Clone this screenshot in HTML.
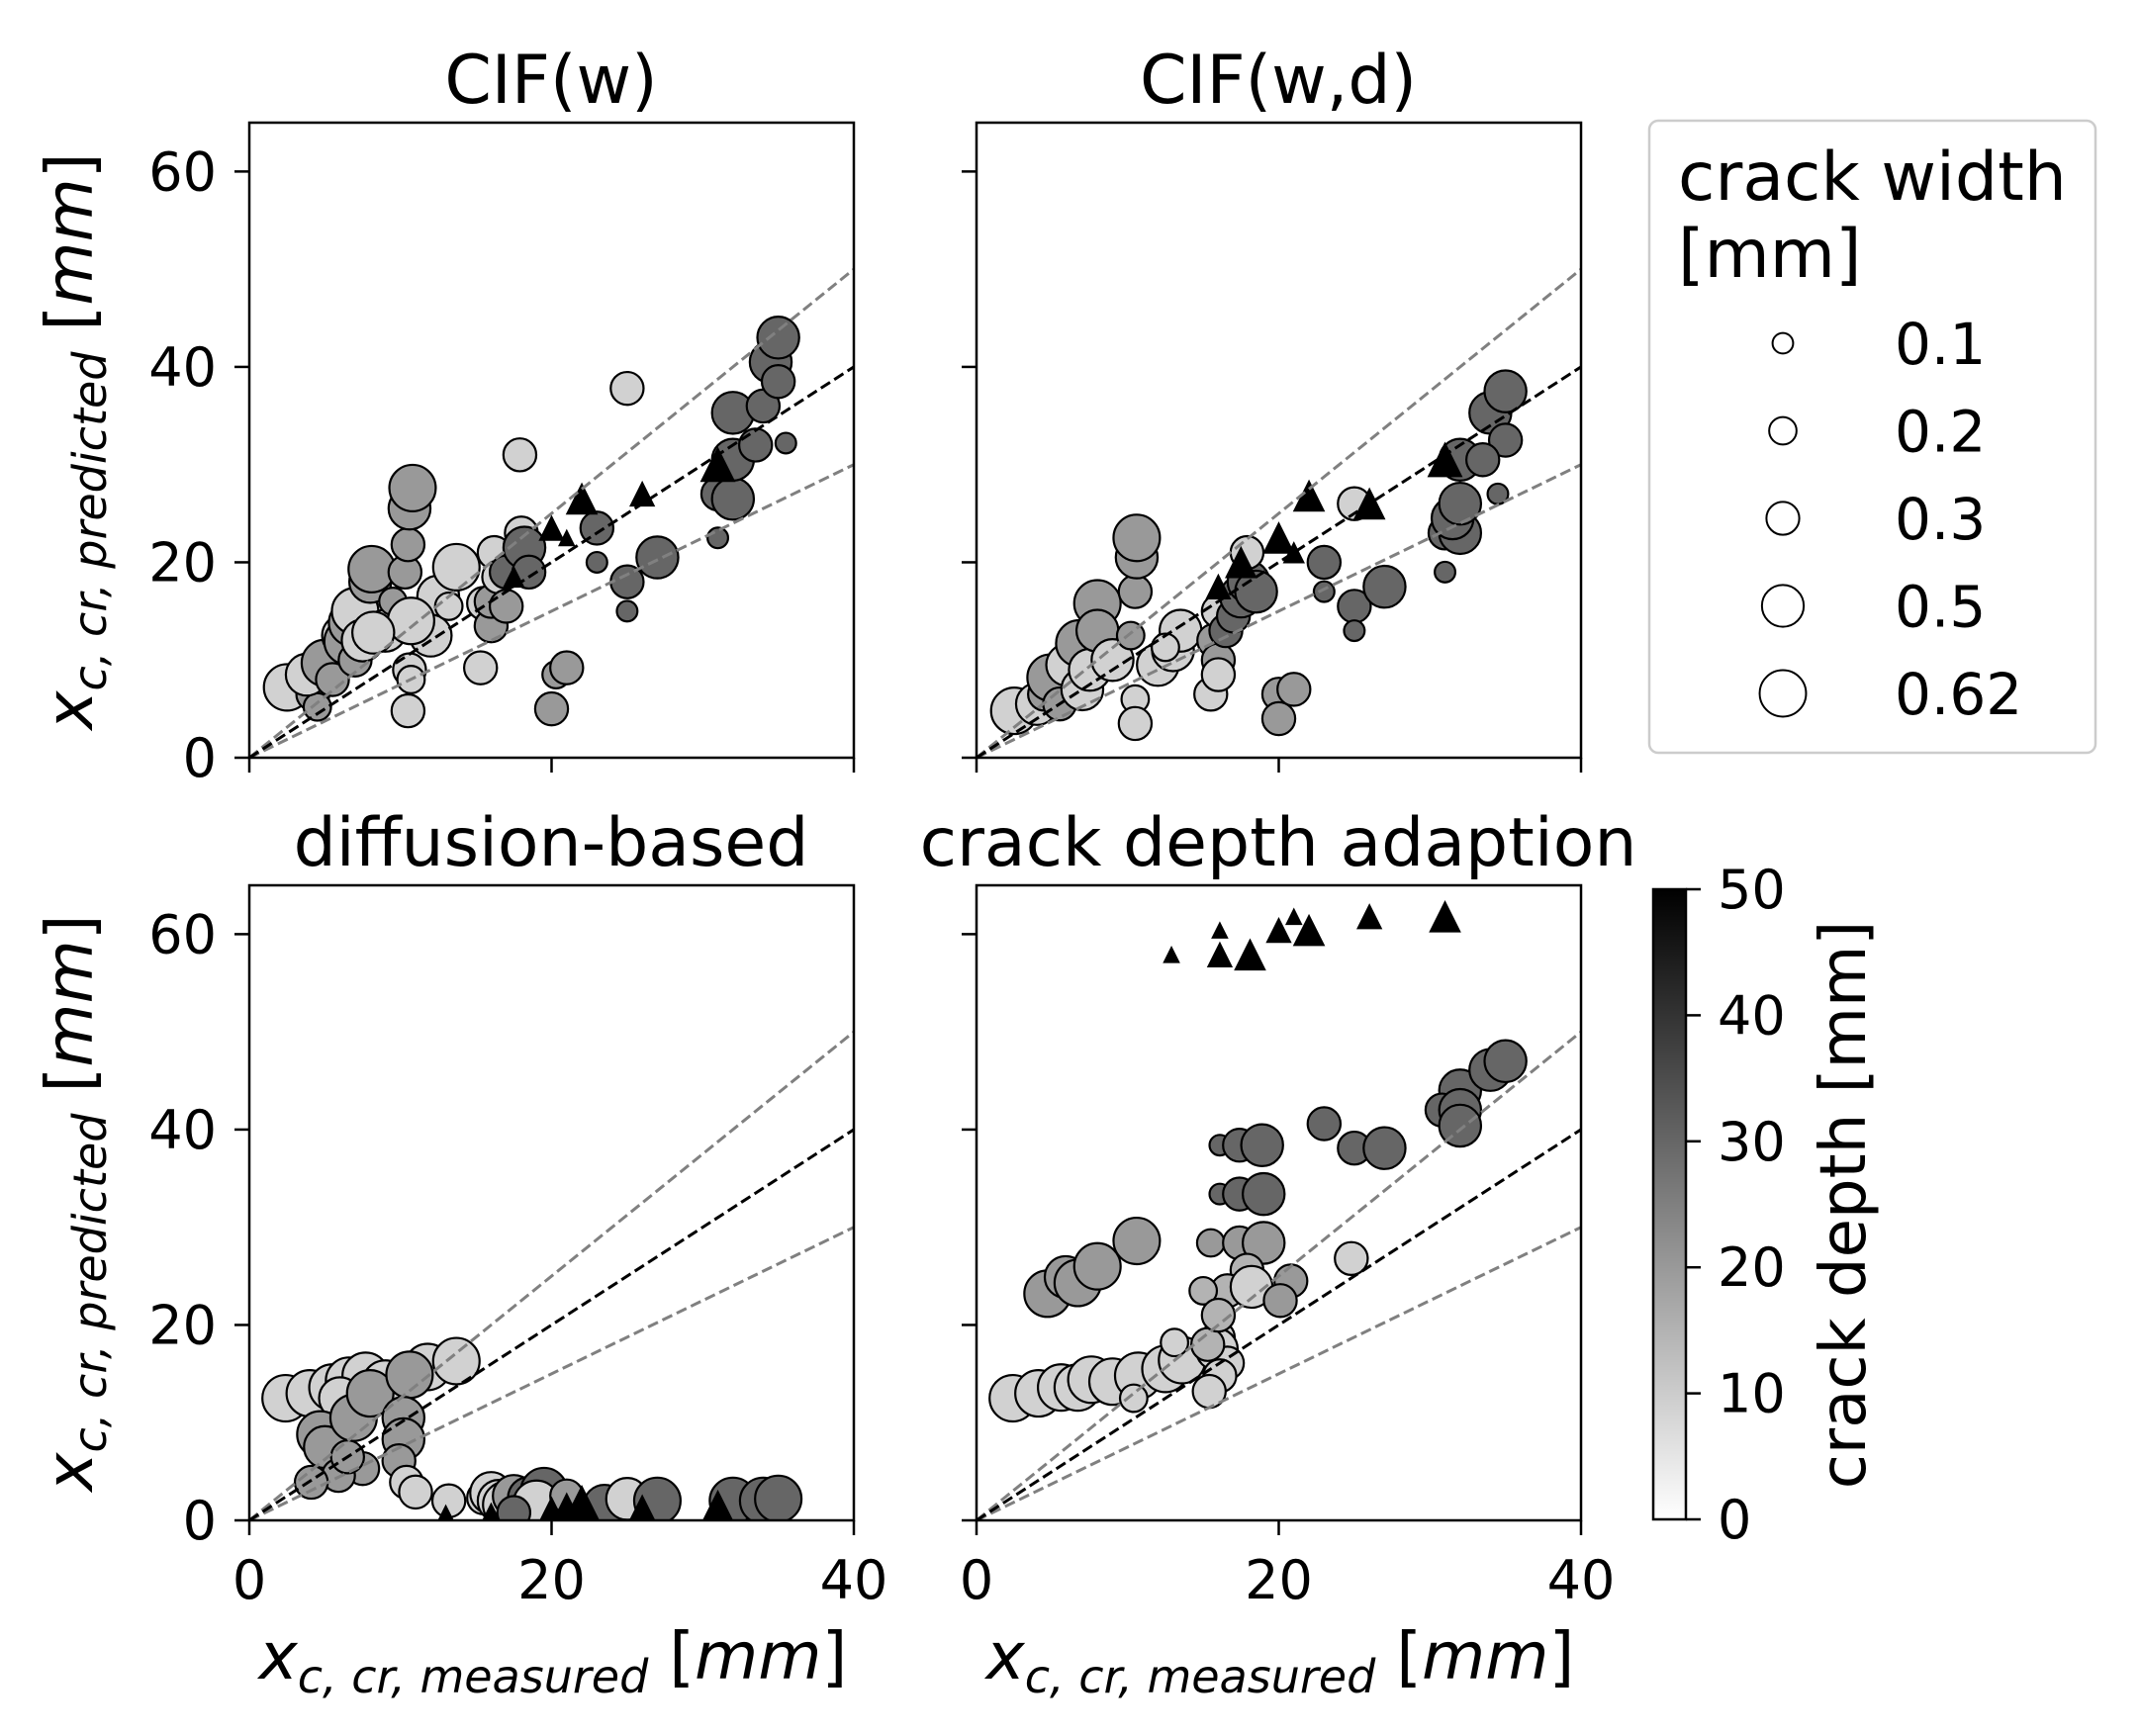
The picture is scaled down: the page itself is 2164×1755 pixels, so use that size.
<!DOCTYPE html>
<html><head><meta charset="utf-8"><title>Chloride penetration predictions</title>
<style>
html,body{margin:0;padding:0;background:#fff;}
svg{display:block;font-family:"DejaVu Sans","Liberation Sans",sans-serif;}
</style></head>
<body>
<svg id="fig" xmlns="http://www.w3.org/2000/svg" width="2164" height="1755" viewBox="0 0 2164 1755">
<defs>
<linearGradient id="cbgrad" x1="0" y1="1" x2="0" y2="0">
<stop offset="0" stop-color="#ffffff"/><stop offset="1" stop-color="#000000"/>
</linearGradient>
</defs>
<rect width="2164" height="1755" fill="#fff"/>
<g id="plots"></g>

<text x="557" y="104" font-size="68" text-anchor="middle">CIF(w)</text>
<text x="1292" y="104" font-size="68" text-anchor="middle">CIF(w,d)</text>
<text x="557" y="875" font-size="68" text-anchor="middle">diffusion-based</text>
<text x="1292" y="875" font-size="68" text-anchor="middle">crack depth adaption</text>

<text transform="translate(93,446) rotate(-90)" text-anchor="middle"><tspan font-size="66" font-style="italic">x</tspan><tspan font-size="46" font-style="italic" dy="14">c, cr, predicted</tspan><tspan font-size="66" dy="-14"> [</tspan><tspan font-size="66" font-style="italic">mm</tspan><tspan font-size="66">]</tspan></text>
<text transform="translate(93,1216) rotate(-90)" text-anchor="middle"><tspan font-size="66" font-style="italic">x</tspan><tspan font-size="46" font-style="italic" dy="14">c, cr, predicted</tspan><tspan font-size="66" dy="-14"> [</tspan><tspan font-size="66" font-style="italic">mm</tspan><tspan font-size="66">]</tspan></text>

<text x="559" y="1697" text-anchor="middle"><tspan font-size="66" font-style="italic">x</tspan><tspan font-size="46" font-style="italic" dy="14">c, cr, measured</tspan><tspan font-size="66" dy="-14"> [</tspan><tspan font-size="66" font-style="italic">mm</tspan><tspan font-size="66">]</tspan></text>
<text x="1294" y="1697" text-anchor="middle"><tspan font-size="66" font-style="italic">x</tspan><tspan font-size="46" font-style="italic" dy="14">c, cr, measured</tspan><tspan font-size="66" dy="-14"> [</tspan><tspan font-size="66" font-style="italic">mm</tspan><tspan font-size="66">]</tspan></text>

<g>
<rect x="1667" y="122" width="451" height="639" rx="9" fill="#fff" fill-opacity="0.8" stroke="#cccccc" stroke-width="2.5"/>
<text x="1696" y="202" font-size="68"><tspan x="1696">crack width</tspan><tspan x="1696" dy="78">[mm]</tspan></text>
<g id="legendEntries"></g>
</g>

<g>
<rect x="1671" y="899" width="33" height="637" fill="url(#cbgrad)" stroke="#000" stroke-width="2.5"/>
<g id="cbTicks"></g>
<text transform="translate(1885,1218) rotate(-90)" font-size="64" text-anchor="middle">crack depth [mm]</text>
</g>
</svg>

<script>
// CIF(w)
const cifwX = [2.5,4.2,4.5,3.8,5,5.5,6.2,6.5,6.8,7,7,7.5,8,8.1,9,9.5,10.3,10.5,10.6,10.8,10.6,10.7,10.5,12.5,12,13.7,13.2,15.3,15.5,16,16,16.2,16.5,17,17,18,18.2,18.5,17.9,20,20.3,21,23,23,25,25,27,25,31,31,32,32,32,33.5,34,34.5,35,35,35.5,10.7,8.2,20,21,22,26,31,17.5];
const cifwY = [7.2,6.5,5.2,8.5,9.7,8,12.5,11.9,13.8,10,15,12,18,19.3,13,16,19,21.8,25.5,27.6,9,8,4.8,16.5,12.5,19.5,15.5,9.2,15.8,13.5,16,21,18.5,15.5,19,23,21.5,19,31,5,8.5,9.2,23.5,20,18,15,20.5,37.8,22.5,27,26.5,30.5,35.3,32,36,40.5,43,38.5,32.2,14,12.8,23.5,22.5,26.5,27,30,18.5];
const cifwW = [.62,.3,.2,.5,.62,.3,.5,.62,.62,.3,.62,.5,.5,.62,.5,.2,.3,.3,.5,.62,.3,.2,.3,.5,.5,.62,.2,.3,.3,.3,.3,.3,.3,.3,.3,.3,.5,.3,.3,.3,.2,.3,.3,.1,.3,.1,.5,.3,.1,.3,.5,.5,.5,.3,.3,.5,.5,.3,.1,.62,.5,.3,.1,.5,.3,.62,.2];
const cifwD = [9,20,20,9,20,20,9,20,20,20,9,9,20,20,9,20,20,20,20,20,9,9,9,9,9,9,9,9,9,20,20,9,9,20,30,9,30,30,9,20,20,20,30,30,30,30,30,9,30,30,30,30,30,30,30,30,30,30,30,9,9,50,50,50,50,50,50];

// CIF(w,d)
const cifwdX = [2.5,4,4.5,4.9,5.5,6,6.8,7,7.5,8,8,9,10.2,10.5,10.6,10.6,10.5,10.5,12,13,13.5,12.5,15.5,15.7,16,16,16,16.5,17,17.5,18,17.9,18.5,20,20,21,23,23,25,25,27,25,31,31,32,31.5,32,32,34,35,35,34.5,33.5,16,17.5,20,21,22,26,31];
const cifwdY = [4.8,5.5,6.5,8.2,5.5,9.5,11.7,7,9,15.8,13,10,12.5,17,20.5,22.5,6,3.5,9.5,11,13,11.3,6.5,12,15,10,8.5,13,14.5,16.5,18,21,17,6.5,4,7,20,17,15.5,13,17.5,26,19,23,23,24.5,26,30.5,35.3,37.5,32.5,27,30.5,17.5,20,22.5,21,26.8,26,30.5];
const cifwdW = [.62,.5,.3,.62,.3,.5,.62,.5,.5,.62,.5,.5,.2,.3,.5,.62,.2,.3,.5,.5,.5,.2,.3,.3,.3,.3,.3,.3,.3,.5,.5,.3,.5,.3,.3,.3,.3,.1,.3,.1,.5,.3,.1,.3,.5,.5,.5,.5,.5,.5,.3,.1,.3,.3,.5,.5,.2,.5,.5,.62];
const cifwdD = [9,9,20,20,20,9,20,9,9,20,20,9,20,20,20,20,9,9,9,9,9,9,9,20,9,20,9,30,30,30,30,9,30,20,20,20,30,30,30,30,30,9,30,30,30,30,30,30,30,30,30,30,30,50,50,50,50,50,50,50];

// diffusion-based
const diffX = [2.4,4,5.5,6.6,7.7,9,11.8,13.7,6,4.7,5,6.9,8,10.6,10.2,10.2,9.9,7.5,5.9,4.1,6.5,10.4,11,13.2,15.5,16,16.5,17,17.5,18.5,19.5,19,21,23.5,25,27,32,34,35,17.5,13,16,20,21,22,26,31];
const diffY = [12.5,13,13.6,14.3,14.8,14,15.7,16.3,12.5,8.8,7.5,10.5,13,14.9,10.5,8.3,6.1,5.3,4.6,3.9,6.5,3.9,2.9,2,2.3,2.8,2,1.6,2.5,2.3,3,1.7,2.5,1.5,2.2,2,2,2,2.2,0.8,0.3,0.5,0.8,1.2,1.8,1,1.3];
const diffW = [.62,.62,.62,.62,.62,.62,.62,.62,.5,.62,.5,.62,.62,.62,.5,.5,.3,.3,.3,.3,.3,.3,.3,.3,.3,.5,.5,.62,.5,.5,.62,.62,.3,.5,.5,.62,.62,.62,.62,.3,.3,.3,.5,.5,.62,.5,.62];
const diffD = [9,9,9,9,9,9,9,9,9,20,20,20,20,20,20,20,20,20,20,20,20,9,9,9,9,9,9,9,20,30,30,9,20,30,9,30,30,30,30,30,50,50,50,50,50,50,50];

// crack depth adaption
const adaptX = [2.4,4.1,5.6,6.7,7.6,9,10.7,12.5,13.6,13.1,10.4,16,15.9,16.6,16.1,15.4,15.3,4.7,5.9,6.7,8,10.6,15.5,17.4,19,17.9,16.6,15,18.2,20.8,20.1,24.8,16,16.1,17.4,18.9,16.1,17.4,19,23,25,27,32,30.8,32,32,34,35,12.9,16.1,16.1,18.1,20,21,22,26,31];
const adaptY = [12.5,13,13.6,13.6,14.4,14.2,14.8,15.5,16.4,18.2,12.5,18.7,17.5,16.1,14.8,13.2,18,23.2,24.9,24.3,26,28.6,28.4,28.4,28.4,25.6,23.5,23.5,23.9,24.5,22.5,26.8,21,38.4,38.4,38.4,33.4,33.4,33.4,40.6,38.1,38.1,44,42,42,40.4,46.1,47,57.9,60.4,57.9,57.9,60.4,61.8,60.4,61.8,61.8];
const adaptW = [.62,.62,.62,.62,.62,.62,.62,.62,.62,.2,.2,.3,.5,.3,.3,.3,.3,.62,.5,.62,.62,.62,.2,.3,.5,.3,.3,.2,.5,.3,.3,.3,.3,.1,.3,.5,.1,.3,.5,.3,.3,.5,.5,.3,.5,.5,.5,.5,.1,.1,.3,.5,.3,.1,.5,.3,.5];
const adaptD = [9,9,9,9,9,9,9,9,9,9,9,9,9,9,9,9,15,
                20,20,20,20,20,20,20,20,15,15,15,9,20,20,9,15,
                30,30,30,30,30,30,30,30,30,30,30,30,30,30,30,
                50,50,50,50,50,50,50,50,50];

const xTicks = [0,20,40];
const yTicks = [0,20,40,60];
const cbTicks = [0,10,20,30,40,50];
const refSlopes = [1.25,0.75,1];
const legendWidths = [0.1,0.2,0.3,0.5,0.62];
const legendLabels = ["0.1","0.2","0.3","0.5","0.62"];

const NS = "http://www.w3.org/2000/svg";
const XMAX = 40, YMAX = 65, DMAX = 50;
const panels = [
  {key:'cif-w', x0:252, x1:863, y0:124, y1:766, xs:cifwX, ys:cifwY, ws:cifwW, ds:cifwD, xlab:false, ylab:true},
  {key:'cif-wd', x0:987, x1:1598, y0:124, y1:766, xs:cifwdX, ys:cifwdY, ws:cifwdW, ds:cifwdD, xlab:false, ylab:false},
  {key:'diffusion', x0:252, x1:863, y0:895, y1:1537, xs:diffX, ys:diffY, ws:diffW, ds:diffD, xlab:true, ylab:true},
  {key:'adaption', x0:987, x1:1598, y0:895, y1:1537, xs:adaptX, ys:adaptY, ws:adaptW, ds:adaptD, xlab:true, ylab:false}
];

function mk(tag, attrs, parent){
  const e = document.createElementNS(NS, tag);
  for (const k in attrs) e.setAttribute(k, attrs[k]);
  parent.appendChild(e);
  return e;
}
function radius(w){ return Math.sqrt(900*w + 40); }
function depthColor(d){
  const g = Math.round(255*(1 - Math.min(d,DMAX)/DMAX));
  return 'rgb('+g+','+g+','+g+')';
}

const root = document.getElementById('plots');

panels.forEach(p => {
  const sx = v => p.x0 + v/XMAX*(p.x1-p.x0);
  const sy = v => p.y1 - v/YMAX*(p.y1-p.y0);
  const g = mk('g', {}, root);
  
  
  const clipId = 'clip-' + p.key;
  const cp = mk('clipPath', {id: clipId}, g);
  mk('rect', {x:p.x0, y:p.y0, width:p.x1-p.x0, height:p.y1-p.y0}, cp);
  const pg = mk('g', {'clip-path':'url(#'+clipId+')'}, g);

  const n = Math.min(p.xs.length, p.ys.length, p.ws.length, p.ds.length);
  for (let i=0;i<n;i++){
    const cx = sx(p.xs[i]), cy = sy(p.ys[i]), r = radius(p.ws[i]);
    if (p.ds[i] >= DMAX){
      const h = 0.7*r;
      const t = mk('polygon', {points: cx+','+(cy-h)+' '+(cx-h)+','+(cy+h)+' '+(cx+h)+','+(cy+h), fill:'#000', stroke:'#000', 'stroke-width':1}, pg);
      
      
    } else {
      const c = mk('circle', {cx:cx, cy:cy, r:r-1, fill:depthColor(p.ds[i]), stroke:'#000', 'stroke-width':2.2}, pg);
      
      
    }
  }
  refSlopes.forEach(k => {
    const l = mk('line', {x1:sx(0), y1:sy(0), x2:sx(XMAX), y2:sy(XMAX*k), stroke: k===1?'#000':'#808080', 'stroke-width':3, 'stroke-dasharray':'11 5'}, pg);
    
    
  });
  const fr = mk('rect', {x:p.x0, y:p.y0, width:p.x1-p.x0, height:p.y1-p.y0, fill:'none', stroke:'#000', 'stroke-width':2.5}, g);
  
  
  xTicks.forEach(v => {
    const x = sx(v);
    const t = mk('line', {x1:x, y1:p.y1, x2:x, y2:p.y1+15, stroke:'#000', 'stroke-width':2.5}, g);
    
    
    if (p.xlab){
      const tx = mk('text', {x:x, y:p.y1+79, 'font-size':54, 'text-anchor':'middle'}, g);
      
      
      tx.textContent = v;
    }
  });
  yTicks.forEach(v => {
    const y = sy(v);
    const t = mk('line', {x1:p.x0-15, y1:y, x2:p.x0, y2:y, stroke:'#000', 'stroke-width':2.5}, g);
    
    
    if (p.ylab){
      const ty = mk('text', {x:p.x0-33, y:y+19, 'font-size':54, 'text-anchor':'end'}, g);
      
      
      ty.textContent = v;
    }
  });
});

const lg = document.getElementById('legendEntries');
legendWidths.forEach((w,i) => {
  const cy = 347 + i*88.5;
  const c = mk('circle', {cx:1802, cy:cy, r:radius(w)-1, fill:'#fff', stroke:'#000', 'stroke-width':2}, lg);
  
  
  const t = mk('text', {x:1915, y:cy+21, 'font-size':58}, lg);
  
  
  t.textContent = legendLabels[i];
});

const cbg = document.getElementById('cbTicks');
cbTicks.forEach(v => {
  const y = 1536 - v/DMAX*(1536-899);
  const l = mk('line', {x1:1704, y1:y, x2:1719, y2:y, stroke:'#000', 'stroke-width':2.5}, cbg);
  
  
  const t = mk('text', {x:1736, y:y+19, 'font-size':54}, cbg);
  
  
  t.textContent = v;
});
</script>
</body></html>
